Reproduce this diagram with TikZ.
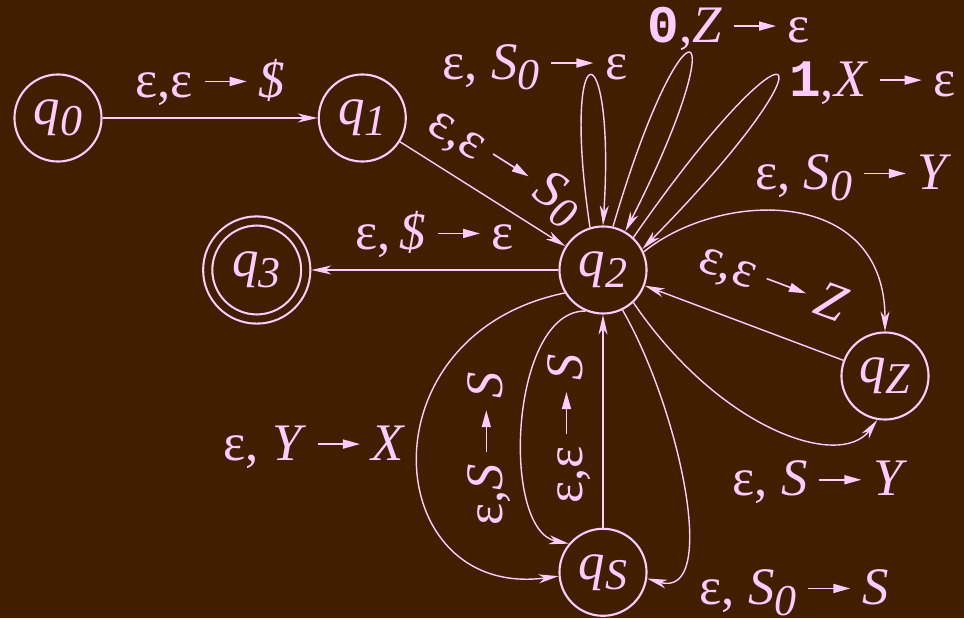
\documentclass[tikz,border=0pt]{standalone}
\usepackage{fontspec}
\setmainfont{Liberation Serif}
\setmonofont{Liberation Mono}
\usetikzlibrary{arrows.meta, positioning}

\definecolor{bgbrown}{HTML}{3F1F00}
\definecolor{lilac}{HTML}{FFCCFF}

\newcommand{\sub}[1]{\raisebox{-3pt}{\fontsize{12.5}{14}\selectfont\itshape #1}}
\newcommand{\st}[1]{\textit{q}\sub{#1}}
\newcommand{\bit}[1]{\texttt{\bfseries #1}}
\newcommand{\pushes}{\hspace{0.11cm}\tikz[baseline=-0.16cm]\draw[lilac, line width=0.45pt, -{Triangle[length=0.17cm, width=0.09cm]}] (0,0) -- (0.42cm,0);\hspace{0.11cm}}

\tikzset{
  qstate/.style={draw, circle, minimum size=0.87cm, inner sep=0pt, line width=0.6pt},
  qfinal/.style={qstate, double=bgbrown, double distance=0.07cm, minimum size=0.98cm, outer sep=0.055cm}
}

\begin{document}
\begin{tikzpicture}[x=0.01cm, y=0.01cm, node distance=2cm, lilac, line width=0.4pt,
  >={Stealth[length=0.2cm, width=0.09cm, inset=0.06cm]}, font=\fontsize{15}{18}\selectfont]
\fill[bgbrown] (0,0) rectangle (964,-618);

\node[qstate] (q0) at (58,-118) {\st{0}};
\node[qstate, right=2.15cm of q0] (q1) {\st{1}};
\node[qstate] (q2) at (603,-270) {\st{2}};
\node[qfinal, left=2.47cm of q2] (q3) {\st{3}};
\node[qstate, below=2.13cm of q2] (qS) {\st{S}};
\node[qstate] (qZ) at (885,-376) {\st{Z}};

\draw[->] (q0) -- node[above] {ε,ε\pushes\textit{\$}} (q1);
\draw[->] (q1) -- node[above, sloped, pos=0.52] {ε,ε\pushes\textit{S}\sub{0}} (q2);
\draw[->] (q2) -- node[above] {ε,\,\textit{\$}\pushes ε} (q3);

% loops on q2
\draw[->] (q2.107) .. controls (560,-27) and (616,-25) .. node[xshift=-0.55cm, yshift=0.09cm] {ε, \textit{S}\sub{0}\pushes ε} (q2.90);
\draw[->] (q2.77) .. controls (684,16) and (740,-6) .. node[xshift=0.4cm, yshift=0.25cm] {\bit{0},\textit{Z}\pushes ε} (q2.60);
\draw[->] (q2.47) .. controls (798,0) and (848,-40) .. node[right=0cm, yshift=-0.07cm] {\bit{1},\textit{X}\pushes ε} (q2.28);

% to and from qZ
\draw[->] (q2.24) .. controls (720,-190) and (885,-185) .. node[pos=0.62, above=0.12cm, xshift=0.26cm] {ε, \textit{S}\sub{0}\pushes\textit{Y}} (qZ.north);
\draw[<-] (q2) -- node[above=0.13cm, sloped, pos=0.56] {ε,ε\pushes\textit{Z}} (qZ);
\draw[->] (q2.-47) .. controls (720,-430) and (840,-470) .. node[pos=0.68, below, yshift=-0.08cm] {ε, \textit{S}\pushes\textit{Y}} (qZ.-100);

% to and from qS
\draw[->] (q2.211) .. controls (360,-335) and (380,-600) .. node[pos=0.47, left] {ε, \textit{Y}\pushes\textit{X}} (qS.185);
\draw[->] (q2.247) .. controls (510,-310) and (500,-530) .. node[pos=0.58, rotate=90, above] {ε,\textit{S}\pushes\textit{S}} (qS.140);
\draw[->] (qS) -- node[pos=0.465, above, sloped] {ε,ε\pushes\textit{S}} (q2);
\draw[->] (q2.-64) .. controls (680,-410) and (720,-600) .. node[at end, anchor=west, xshift=0.4cm, yshift=-0.14cm] {ε, \textit{S}\sub{0}\pushes\textit{S}} (qS.-8);

\pgfresetboundingbox
\useasboundingbox (0,0) rectangle (964,-618);
\end{tikzpicture}
\end{document}
